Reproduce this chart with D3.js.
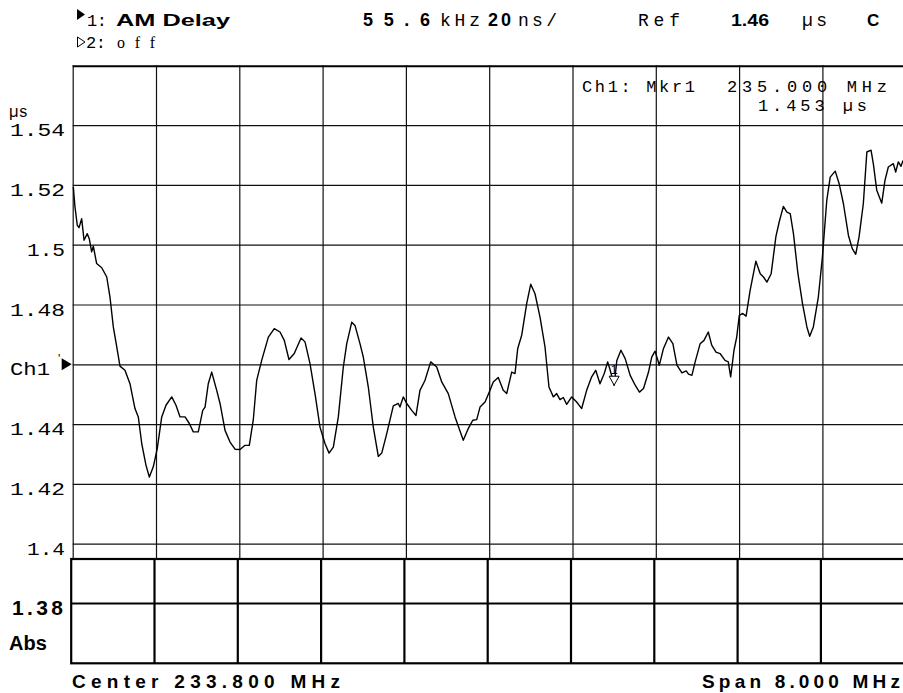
<!DOCTYPE html>
<html>
<head>
<meta charset="utf-8">
<script src="https://cdn.jsdelivr.net/npm/d3@7"></script>
<style>
  html, body { margin: 0; padding: 0; background: #fff; }
  svg { display: block; }
  text { fill: #000; }
</style>
</head>
<body>
<svg id="chart" width="903" height="693"></svg>
<script>
// Channel 1 AM delay trace: frequency (MHz) and group delay (µs)
const freqMHz = [
  229.806, 229.822, 229.844, 229.861, 229.886, 229.909, 229.940, 229.959, 229.982, 229.998,
  230.030, 230.079, 230.127, 230.158, 230.190, 230.223, 230.254, 230.302, 230.350, 230.398,
  230.430, 230.463, 230.504, 230.536, 230.574, 230.612, 230.655, 230.696, 230.751, 230.792,
  230.831, 230.879, 230.920, 230.958, 231.006, 231.049, 231.071, 231.102, 231.135, 231.183,
  231.215, 231.263, 231.311, 231.359, 231.407, 231.455, 231.496, 231.534, 231.567, 231.615,
  231.679, 231.736, 231.791, 231.832, 231.877, 231.928, 231.993, 232.031, 232.079, 232.127,
  232.175, 232.223, 232.262, 232.303, 232.351, 232.399, 232.432, 232.480, 232.511, 232.559,
  232.591, 232.639, 232.687, 232.735, 232.768, 232.816, 232.879, 232.927, 232.943, 232.975,
  233.008, 233.056, 233.097, 233.135, 233.183, 233.238, 233.296, 233.344, 233.407, 233.472,
  233.551, 233.599, 233.642, 233.680, 233.712, 233.760, 233.808, 233.839, 233.887, 233.935,
  233.968, 234.016, 234.048, 234.074, 234.112, 234.160, 234.199, 234.240, 234.288, 234.336,
  234.374, 234.416, 234.448, 234.480, 234.512, 234.544, 234.592, 234.640, 234.688, 234.736,
  234.784, 234.823, 234.864, 234.905, 234.938, 234.962, 235.000, 235.026, 235.065, 235.106,
  235.154, 235.202, 235.243, 235.282, 235.330, 235.361, 235.393, 235.434, 235.474, 235.522,
  235.564, 235.603, 235.651, 235.692, 235.714, 235.747, 235.778, 235.826, 235.863, 235.904,
  235.937, 235.978, 236.017, 236.065, 236.096, 236.119, 236.151, 236.177, 236.202, 236.235,
  236.267, 236.306, 236.361, 236.403, 236.434, 236.467, 236.508, 236.553, 236.585, 236.625,
  236.659, 236.691, 236.722, 236.765, 236.809, 236.851, 236.878, 236.913, 236.961, 237.000,
  237.042, 237.075, 237.123, 237.161, 237.202, 237.250, 237.287, 237.320, 237.352, 237.393,
  237.427, 237.467, 237.489, 237.522, 237.570, 237.601, 237.633, 237.681, 237.704, 237.729,
  237.755, 237.774
];
const delayUs = [
  1.5193, 1.5126, 1.5065, 1.5057, 1.5087, 1.5015, 1.5037, 1.5020, 1.4976, 1.4995,
  1.4937, 1.4923, 1.4892, 1.4825, 1.4725, 1.4658, 1.4594, 1.4580, 1.4535, 1.4452,
  1.4424, 1.4335, 1.4262, 1.4223, 1.4257, 1.4318, 1.4424, 1.4463, 1.4491, 1.4463,
  1.4424, 1.4424, 1.4402, 1.4374, 1.4374, 1.4446, 1.4457, 1.4535, 1.4574, 1.4513,
  1.4469, 1.4379, 1.4340, 1.4316, 1.4315, 1.4329, 1.4329, 1.4413, 1.4546, 1.4613,
  1.4691, 1.4719, 1.4708, 1.4680, 1.4616, 1.4636, 1.4688, 1.4675, 1.4602, 1.4502,
  1.4390, 1.4335, 1.4303, 1.4323, 1.4424, 1.4591, 1.4669, 1.4741, 1.4730, 1.4669,
  1.4624, 1.4524, 1.4390, 1.4292, 1.4303, 1.4368, 1.4461, 1.4469, 1.4457, 1.4491,
  1.4469, 1.4446, 1.4429, 1.4513, 1.4546, 1.4608, 1.4591, 1.4541, 1.4502, 1.4424,
  1.4346, 1.4385, 1.4413, 1.4415, 1.4457, 1.4474, 1.4513, 1.4541, 1.4556, 1.4513,
  1.4502, 1.4574, 1.4569, 1.4653, 1.4697, 1.4803, 1.4868, 1.4836, 1.4758, 1.4658,
  1.4524, 1.4491, 1.4502, 1.4482, 1.4489, 1.4466, 1.4491, 1.4474, 1.4452, 1.4513,
  1.4558, 1.4580, 1.4535, 1.4569, 1.4608, 1.4580, 1.4530, 1.4613, 1.4647, 1.4619,
  1.4563, 1.4530, 1.4507, 1.4519, 1.4574, 1.4624, 1.4644, 1.4597, 1.4653, 1.4691,
  1.4669, 1.4597, 1.4571, 1.4578, 1.4567, 1.4563, 1.4608, 1.4669, 1.4680, 1.4708,
  1.4664, 1.4641, 1.4636, 1.4613, 1.4608, 1.4558, 1.4647, 1.4691, 1.4764, 1.4770,
  1.4761, 1.4847, 1.4945, 1.4903, 1.4892, 1.4875, 1.4903, 1.5026, 1.5076, 1.5128,
  1.5109, 1.5104, 1.5037, 1.4903, 1.4803, 1.4725, 1.4694, 1.4725, 1.4825, 1.4959,
  1.5148, 1.5226, 1.5246, 1.5204, 1.5137, 1.5031, 1.4987, 1.4968, 1.5026, 1.5137,
  1.5310, 1.5316, 1.5271, 1.5182, 1.5139, 1.5215, 1.5260, 1.5271, 1.5243, 1.5277,
  1.5262, 1.5282
];

// Scale settings
const centerMHz = 233.8;
const spanMHz = 8.0;
const refUs = 1.46;
const perDivUs = 0.02;
const yTickValues = [1.54, 1.52, 1.5, 1.48, 1.46, 1.44, 1.42, 1.4];
const yTickLabels = ["1.54", "1.52", "1.5", "1.48", "Ch1", "1.44", "1.42", "1.4"];

// Marker 1
const markerFreqMHz = 235.000;
const markerDelayUs = 1.453;

const svg = d3.select("#chart");

const plotLeft = 72.7, plotRight = 905.7, plotTop = 65.3, plotBottom = 663.3;
const x = d3.scaleLinear()
  .domain([centerMHz - spanMHz / 2, centerMHz + spanMHz / 2])
  .range([plotLeft, plotRight]);
const y = d3.scaleLinear()
  .domain([refUs - 5 * perDivUs, refUs + 5 * perDivUs])
  .range([plotBottom, plotTop]);

const upperBottom = 559;           // lower edge of the trace grid
const xDivs = d3.range(11).map(i => x.domain()[0] + i * spanMHz / 10);

// ---- trace grid (thin lines) ----
const grid = svg.append("g");

grid.append("g")
  .attr("transform", `translate(0,${upperBottom})`)
  .call(d3.axisBottom(x).tickValues(xDivs).tickSize(-(upperBottom - plotTop)).tickFormat(""))
  .call(g => g.select(".domain").remove())
  .call(g => g.selectAll(".tick line").attr("stroke", "#111").attr("stroke-width", 1.2));

grid.append("g")
  .attr("transform", `translate(${plotLeft},0)`)
  .call(d3.axisLeft(y).tickValues(yTickValues).tickSize(-(plotRight - plotLeft)).tickFormat(""))
  .call(g => g.select(".domain").remove())
  .call(g => g.selectAll(".tick line").attr("stroke", "#111").attr("stroke-width", 1.2));

// top border of the grid
svg.append("line")
  .attr("x1", plotLeft).attr("x2", plotRight)
  .attr("y1", y(1.56) + 1).attr("y2", y(1.56) + 1)
  .attr("stroke", "#000").attr("stroke-width", 2);

// ---- lower scale box (heavy lines) ----
const lowerShift = -1.5;
const lower = svg.append("g").attr("stroke", "#000").attr("stroke-width", 2.2).attr("fill", "none");
lower.append("rect")
  .attr("x", plotLeft + lowerShift).attr("y", upperBottom)
  .attr("width", plotRight - plotLeft + 4).attr("height", plotBottom - upperBottom);
lower.selectAll("line.v")
  .data(xDivs.slice(1, 10))
  .join("line")
  .attr("class", "v")
  .attr("x1", d => x(d) + lowerShift).attr("x2", d => x(d) + lowerShift)
  .attr("y1", upperBottom).attr("y2", plotBottom);
lower.append("line")
  .attr("x1", plotLeft + lowerShift).attr("x2", plotRight)
  .attr("y1", y(1.38)).attr("y2", y(1.38));

// ---- fonts ----
const sansFont = "'Liberation Sans', Arial, sans-serif";
const monoFont = "'Liberation Mono', 'DejaVu Sans Mono', monospace";

// ---- y labels ----
const labelWidth = t => t.length === 4 ? 55 : (t === "Ch1" ? 40 : 38);
const labelStart = t => t === "Ch1" ? 10 : 65 - labelWidth(t);
svg.append("g").attr("font-family", monoFont).attr("font-size", 18)
  .selectAll("text")
  .data(yTickValues.map((v, i) => ({ v, t: yTickLabels[i] })))
  .join("text")
  .attr("x", d => labelStart(d.t))
  .attr("y", d => y(d.v) + 11)
  .attr("textLength", d => labelWidth(d.t))
  .attr("lengthAdjust", "spacingAndGlyphs")
  .text(d => d.t);

svg.append("text")
  .attr("x", 9).attr("y", 117)
  .attr("font-family", monoFont).attr("font-size", 17)
  .attr("textLength", 19).attr("lengthAdjust", "spacingAndGlyphs")
  .text("µs");

// Ch1 reference pointer
svg.append("path")
  .attr("d", `M${plotLeft - 11},${y(refUs) - 6} L${plotLeft - 1},${y(refUs)} L${plotLeft - 11},${y(refUs) + 6} Z`)
  .attr("fill", "#000");
svg.append("text")
  .attr("x", 58).attr("y", y(refUs) - 1)
  .attr("font-family", sansFont).attr("font-size", 12)
  .text("'");

// lower box labels
svg.append("text")
  .attr("x", 12).attr("y", y(1.38) + 11)
  .attr("font-family", sansFont).attr("font-weight", "bold").attr("font-size", 21)
  .attr("textLength", 51).attr("lengthAdjust", "spacing")
  .text("1.38");
svg.append("text")
  .attr("x", 9).attr("y", 650)
  .attr("font-family", sansFont).attr("font-weight", "bold").attr("font-size", 20)
  .text("Abs");

// ---- trace ----
const trace = freqMHz.map((f, i) => ({ f, v: delayUs[i] }));
const line = d3.line().x(d => x(d.f)).y(d => y(d.v));
svg.append("path")
  .datum(trace)
  .attr("d", line)
  .attr("fill", "none")
  .attr("stroke", "#000")
  .attr("stroke-width", 1.4)
  .attr("stroke-linejoin", "round");

// marker 1 symbol
const mx = x(markerFreqMHz), my = y(markerDelayUs);
svg.append("path")
  .attr("d", `M${mx - 5},${my - 9} L${mx + 5},${my - 9} L${mx},${my} Z`)
  .attr("fill", "#fff").attr("stroke", "#000").attr("stroke-width", 1);
svg.append("text")
  .attr("x", mx).attr("y", my - 11)
  .attr("text-anchor", "middle")
  .attr("font-family", sansFont).attr("font-size", 13)
  .text("1");

// ---- header ----
function txt(s, x0, yb, opts = {}) {
  const t = svg.append("text")
    .attr("x", x0).attr("y", yb)
    .attr("font-family", opts.family || monoFont)
    .attr("font-size", opts.size || 16)
    .attr("font-weight", opts.bold ? "bold" : "normal")
    .text(s);
  if (opts.len) t.attr("textLength", opts.len).attr("lengthAdjust", opts.adjust || "spacing");
  return t;
}
const SG = "spacingAndGlyphs";

// channel indicators
svg.append("path").attr("d", "M77,9 L85,14.5 L77,20 Z").attr("fill", "#000");
txt("1:", 87, 26, { size: 17, len: 20 });
txt("AM Delay", 116, 26, { size: 17, bold: true, len: 114, adjust: SG, family: sansFont });

svg.append("path").attr("d", "M77.5,37 L85,42 L77.5,47 Z").attr("fill", "none").attr("stroke", "#000").attr("stroke-width", 1);
txt("2:", 86, 48, { size: 17, len: 20 });
txt("off", 117, 48, { size: 16, family: "'Liberation Serif', 'Times New Roman', serif", len: 38 });

// status line
txt("55.6", 363, 26, { size: 18, bold: true, len: 67, family: sansFont });
txt("kHz", 440, 26, { size: 18, len: 40 });
txt("20", 488, 26, { size: 18, bold: true, len: 23, family: sansFont });
txt("ns/", 518, 26, { size: 18, len: 39 });
txt("Ref", 638, 26, { size: 18, len: 42 });
txt("1.46", 731, 26, { size: 17, bold: true, len: 38, adjust: SG, family: sansFont });
txt("µs", 802, 26, { size: 18, len: 25 });
txt("C", 867, 26, { size: 17, bold: true, family: sansFont });

// marker readout
txt("Ch1: Mkr1", 582, 92, { size: 17, len: 113 });
txt("235.000 MHz", 727, 92, { size: 17, len: 160 });
txt("1.453 µs", 758, 111, { size: 17, len: 109 });

// footer
txt("Center 233.800 MHz", 72, 688, { size: 19, bold: true, len: 268, family: sansFont });
txt("Span 8.000 MHz", 702, 688, { size: 19, bold: true, len: 198, family: sansFont });
</script>
</body>
</html>
